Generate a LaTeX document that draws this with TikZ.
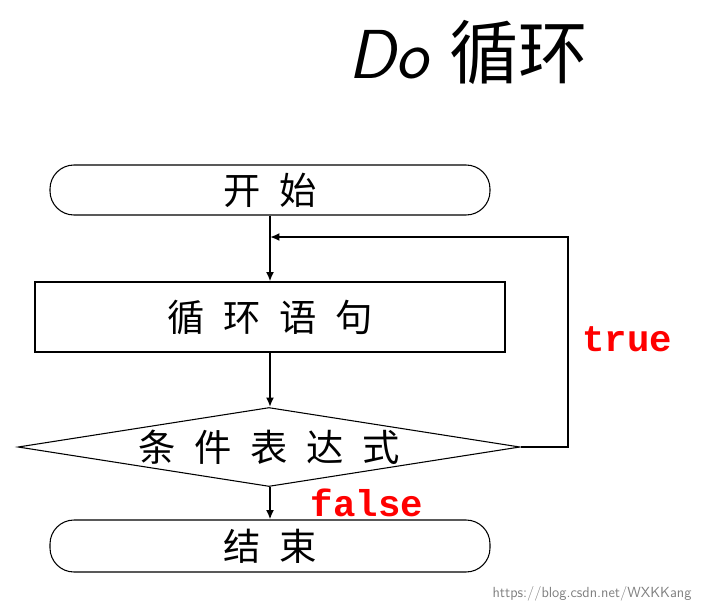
\documentclass[tikz,border=0pt]{standalone}
\usepackage{fontspec}
\newfontfamily\cjk{Noto Sans CJK SC}
\newfontfamily\cjkwide[LetterSpace=50]{Noto Sans CJK SC}
\setmainfont{Liberation Serif}
\setmonofont{Liberation Mono}
\usetikzlibrary{shapes.geometric,arrows.meta}
\begin{document}
\begin{tikzpicture}[x=0.75pt,y=-0.75pt,
  box/.style={draw,line width=0.8pt,font=\cjkwide\fontsize{28}{32}\selectfont},
  link/.style={line width=2pt,-{Latex[length=7pt,width=6pt]}},
  lab/.style={text=red,font=\ttfamily\bfseries\fontsize{28}{30}\selectfont}]
\useasboundingbox (0,0) rectangle (706,611);
\node[font=\fontsize{52}{56}\selectfont] (title) at (468,52) {\sffamily\itshape Do \cjk 循环};
\node[box,rounded corners=18pt,minimum width=330pt,minimum height=37.5pt,inner sep=0pt] (start) at (270,190) {开始};
\node[box,minimum width=352.5pt,minimum height=52.5pt] (body) at (270,317) {循环语句};
\node[box,diamond,aspect=6.35,minimum width=376.5pt,minimum height=59.25pt,inner sep=0pt] (cond) at (269,447) {条件表达式};
\node[box,rounded corners=18pt,minimum width=330pt,minimum height=39pt,inner sep=0pt] (end) at (270,546) {结束};
\coordinate (top) at (270,237);
\draw[link] (start.south -| top) -- (body.north -| top);
\draw[link] (body.south -| top) -- (cond.north -| top);
\draw[link] (cond.south -| top) -- (end.north -| top);
\draw[link] (cond.east) -- (568,447) -- (568,237) -- (top);
\node[lab] (f) at (367,503) {false};
\node[lab] (t) at (627,339) {true};
\node[text=gray,font=\sffamily\fontsize{11}{12}\selectfont] (wm) at (592,594) {https://blog.csdn.net/WXKKang};
\end{tikzpicture}
\end{document}
